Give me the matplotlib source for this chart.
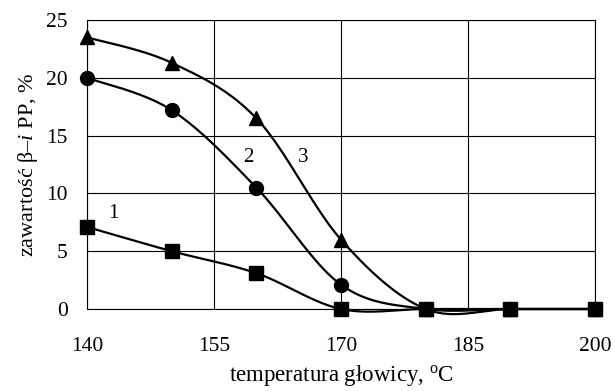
import numpy as np
import matplotlib
matplotlib.use("Agg")
import matplotlib.pyplot as plt

# ── data ────────────────────────────────────────────────────────────────────
temp = [140, 150, 160, 170, 180, 190, 200]
beta_1 = [7.1, 5.0, 3.1, 0.0, 0.0, 0.0, 0.0]      # squares
beta_2 = [20.0, 17.2, 10.5, 2.1, 0.0, 0.0, 0.0]   # circles
beta_3 = [23.5, 21.3, 16.5, 6.0, 0.0, 0.0, 0.0]   # triangles
curve_labels = ["1", "2", "3"]
label_pos = [(143.1, 8.3), (159.0, 13.1), (165.5, 13.1)]

x_ticks = [140, 155, 170, 185, 200]
y_ticks = [0, 5, 10, 15, 20, 25]

plt.rcParams["font.family"] = ["Liberation Serif", "DejaVu Serif"]
plt.rcParams["mathtext.fontset"] = "custom"
plt.rcParams["mathtext.rm"] = "Liberation Serif"
plt.rcParams["mathtext.it"] = "Liberation Serif:italic"


def smooth(xs, ys, n=40):
    """Excel-like smoothed line (Catmull-Rom through the points)."""
    p = np.column_stack([xs, ys]).astype(float)
    p = np.vstack([p[0], p, p[-1]])
    out = []
    t = np.linspace(0, 1, n)[:, None]
    for i in range(1, len(p) - 2):
        p0, p1, p2, p3 = p[i - 1], p[i], p[i + 1], p[i + 2]
        c1 = p1 + (p2 - p0) / 6
        c2 = p2 - (p3 - p1) / 6
        seg = ((1 - t) ** 3) * p1 + 3 * ((1 - t) ** 2) * t * c1 \
            + 3 * (1 - t) * t ** 2 * c2 + t ** 3 * p2
        out.append(seg)
    out = np.vstack(out)
    return out[:, 0], out[:, 1]


fig = plt.figure(figsize=(6.15, 3.91), dpi=100)
ax = fig.add_axes([0.1415, 0.2097, 0.826, 0.7391])

for ys, mk, ms in [(beta_3, "^", 10.5), (beta_2, "o", 10), (beta_1, "s", 9.5)]:
    sx, sy = smooth(temp, ys)
    ax.plot(sx, sy, color="black", lw=1.6, zorder=3, clip_on=False)
    ax.plot(temp, ys, ls="none", marker=mk, ms=ms, color="black",
            zorder=4, clip_on=False)

for txt, (lx, ly) in zip(curve_labels, label_pos):
    ax.text(lx, ly, txt, fontsize=15, ha="center", va="center")

ax.set_xlim(140, 200)
ax.set_ylim(0, 25)
ax.set_xticks(x_ticks)
ax.set_yticks(y_ticks)
ax.grid(True, color="black", lw=0.8)
ax.set_axisbelow(True)
for spine in ax.spines.values():
    spine.set_linewidth(0.8)
ax.tick_params(length=0, labelsize=15.5)
ax.tick_params(axis="x", pad=20)
ax.tick_params(axis="y", pad=14)

ax.set_xlabel("temperatura głowicy, $^{\\rm o}$C", fontsize=16.5, labelpad=5)
ax.set_ylabel("zawartość β–$\\it{i}$ PP, %", fontsize=16, labelpad=4)

fig.savefig("out.png", dpi=100)
